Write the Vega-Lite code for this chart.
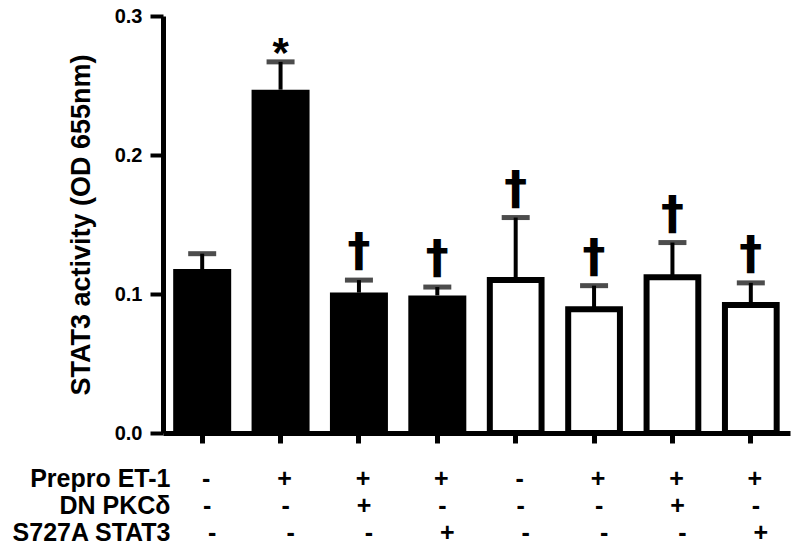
{
  "$schema": "https://vega.github.io/schema/vega-lite/v6.json",
  "padding": {"left": 11, "top": 6, "right": 5, "bottom": 3},
  "background": "white",
  "config": {"view": {"stroke": null}, "font": "Liberation Sans", "concat": {"spacing": 19}},
  "datasets": {
    "bars": [
      {"group": "1", "mean": 0.118, "upper": 0.129, "style": "black", "sig": ""},
      {"group": "2", "mean": 0.247, "upper": 0.267, "style": "black", "sig": "*"},
      {"group": "3", "mean": 0.101, "upper": 0.110, "style": "black", "sig": "†"},
      {"group": "4", "mean": 0.099, "upper": 0.105, "style": "black", "sig": "†"},
      {"group": "5", "mean": 0.110, "upper": 0.155, "style": "white", "sig": "†"},
      {"group": "6", "mean": 0.089, "upper": 0.106, "style": "white", "sig": "†"},
      {"group": "7", "mean": 0.112, "upper": 0.137, "style": "white", "sig": "†"},
      {"group": "8", "mean": 0.092, "upper": 0.108, "style": "white", "sig": "†"}
    ],
    "table": [
      {"group": "1", "factor": "Prepro ET-1", "sign": "-"},
      {"group": "2", "factor": "Prepro ET-1", "sign": "+"},
      {"group": "3", "factor": "Prepro ET-1", "sign": "+"},
      {"group": "4", "factor": "Prepro ET-1", "sign": "+"},
      {"group": "5", "factor": "Prepro ET-1", "sign": "-"},
      {"group": "6", "factor": "Prepro ET-1", "sign": "+"},
      {"group": "7", "factor": "Prepro ET-1", "sign": "+"},
      {"group": "8", "factor": "Prepro ET-1", "sign": "+"},
      {"group": "1", "factor": "DN PKCδ", "sign": "-"},
      {"group": "2", "factor": "DN PKCδ", "sign": "-"},
      {"group": "3", "factor": "DN PKCδ", "sign": "+"},
      {"group": "4", "factor": "DN PKCδ", "sign": "-"},
      {"group": "5", "factor": "DN PKCδ", "sign": "-"},
      {"group": "6", "factor": "DN PKCδ", "sign": "-"},
      {"group": "7", "factor": "DN PKCδ", "sign": "+"},
      {"group": "8", "factor": "DN PKCδ", "sign": "-"},
      {"group": "1", "factor": "S727A STAT3", "sign": "-"},
      {"group": "2", "factor": "S727A STAT3", "sign": "-"},
      {"group": "3", "factor": "S727A STAT3", "sign": "-"},
      {"group": "4", "factor": "S727A STAT3", "sign": "+"},
      {"group": "5", "factor": "S727A STAT3", "sign": "-"},
      {"group": "6", "factor": "S727A STAT3", "sign": "-"},
      {"group": "7", "factor": "S727A STAT3", "sign": "-"},
      {"group": "8", "factor": "S727A STAT3", "sign": "+"}
    ]
  },
  "vconcat": [
    {
      "width": 627,
      "height": 417,
      "data": {"name": "bars"},
      "encoding": {
        "x": {
          "field": "group", "type": "nominal",
          "scale": {"domain": ["1","2","3","4","5","6","7","8"], "paddingInner": 0, "paddingOuter": 0},
          "axis": {"title": null, "labels": false, "tickSize": 10, "tickWidth": 5, "tickColor": "#000", "domainColor": "#000", "domainWidth": 5, "grid": false}
        }
      },
      "layer": [
        {
          "transform": [{"filter": "datum.style == 'black'"}],
          "mark": {"type": "bar", "color": "#000", "width": {"band": 0.74}},
          "encoding": {
            "y": {
              "field": "mean", "type": "quantitative",
              "scale": {"domain": [0, 0.3], "nice": false},
              "axis": {
                "title": "STAT3 activity (OD 655nm)", "values": [0, 0.1, 0.2, 0.3], "format": ".1f",
                "labelFontSize": 20, "labelFontWeight": "bold", "labelColor": "#000", "labelPadding": 8,
                "tickSize": 13, "tickWidth": 4, "tickColor": "#000",
                "domainColor": "#000", "domainWidth": 5, "grid": false,
                "titleFontSize": 27, "titleFontWeight": "bold", "titleColor": "#000", "titlePadding": 19
              }
            }
          }
        },
        {
          "transform": [{"filter": "datum.style == 'white'"}],
          "mark": {"type": "bar", "fill": "#fff", "stroke": "#000", "strokeWidth": 6, "width": {"band": 0.66}},
          "encoding": {"y": {"field": "mean", "type": "quantitative"}}
        },
        {
          "mark": {"type": "rule", "strokeWidth": 4, "color": "#000"},
          "encoding": {"y": {"field": "mean", "type": "quantitative"}, "y2": {"field": "upper"}}
        },
        {
          "mark": {"type": "tick", "thickness": 5, "size": 28, "color": "#000"},
          "encoding": {"y": {"field": "upper", "type": "quantitative"}}
        },
        {
          "transform": [{"filter": "datum.sig == '†'"}],
          "mark": {"type": "text", "font": "DejaVu Sans", "fontSize": 46, "fontWeight": "bold", "color": "#000", "baseline": "middle", "dy": -28},
          "encoding": {"y": {"field": "upper", "type": "quantitative"}, "text": {"field": "sig"}}
        },
        {
          "transform": [{"filter": "datum.sig == '*'"}],
          "mark": {"type": "text", "fontSize": 42, "fontWeight": "bold", "color": "#000", "baseline": "middle", "dy": -8},
          "encoding": {"y": {"field": "upper", "type": "quantitative"}, "text": {"field": "sig"}}
        }
      ]
    },
    {
      "width": 627,
      "height": 81,
      "data": {"name": "table"},
      "encoding": {
        "x": {
          "field": "group", "type": "nominal",
          "scale": {"domain": ["1","2","3","4","5","6","7","8"], "paddingInner": 0, "paddingOuter": 0},
          "axis": null
        },
        "y": {
          "field": "factor", "type": "nominal",
          "scale": {"domain": ["Prepro ET-1", "DN PKCδ", "S727A STAT3"], "paddingInner": 0, "paddingOuter": 0},
          "axis": {"title": null, "domain": false, "ticks": false, "labelFontSize": 25, "labelFontWeight": "bold", "labelColor": "#000", "labelPadding": -7}
        },
        "text": {"field": "sign"}
      },
      "layer": [
        {
          "transform": [{"filter": "datum.factor == 'Prepro ET-1'"}],
          "mark": {"type": "text", "fontSize": 25, "fontWeight": "bold", "color": "#000", "dx": 4}
        },
        {
          "transform": [{"filter": "datum.factor == 'DN PKCδ'"}],
          "mark": {"type": "text", "fontSize": 25, "fontWeight": "bold", "color": "#000", "dx": 5}
        },
        {
          "transform": [{"filter": "datum.factor == 'S727A STAT3'"}],
          "mark": {"type": "text", "fontSize": 25, "fontWeight": "bold", "color": "#000", "dx": 10}
        }
      ]
    }
  ]
}
